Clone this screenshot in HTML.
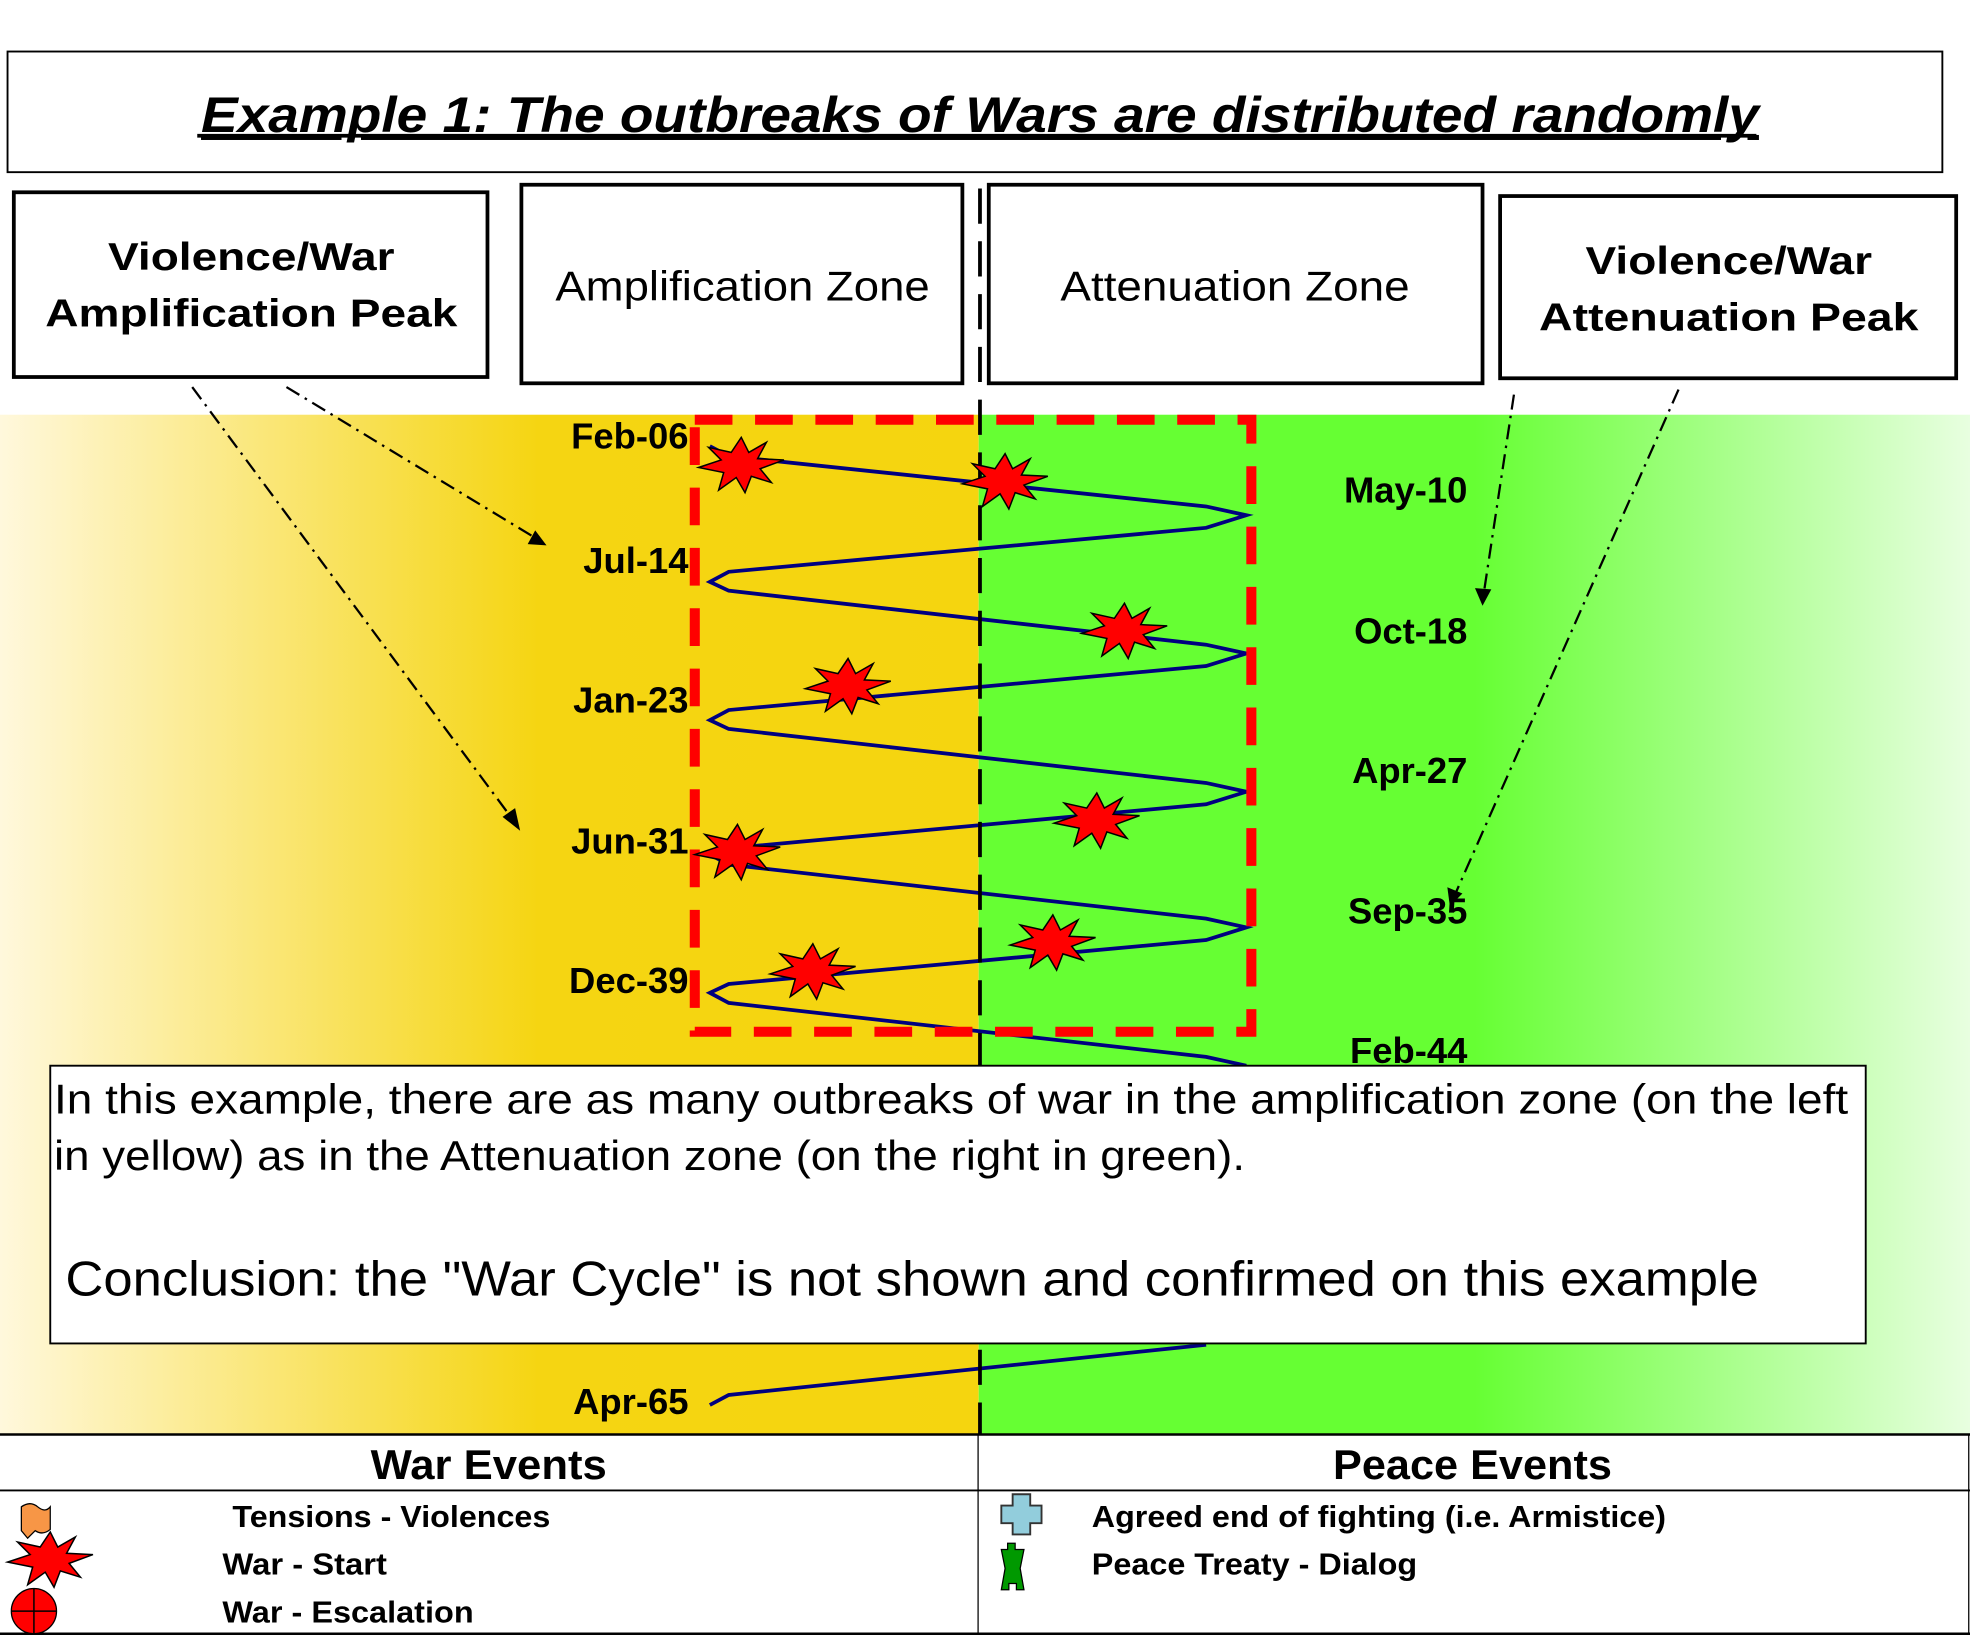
<!DOCTYPE html>
<html><head><meta charset="utf-8"><style>
html,body{margin:0;padding:0;background:#fff;}
svg{display:block;}
text{font-family:"Liberation Sans",sans-serif;}
</style></head><body>
<svg width="1970" height="1635" viewBox="0 0 1568 1301" preserveAspectRatio="none" xmlns="http://www.w3.org/2000/svg">
<defs>
<linearGradient id="gy" x1="0" x2="1" y1="0" y2="0">
<stop offset="0" stop-color="#fff8dc"/>
<stop offset="0.55" stop-color="#f5d512"/>
<stop offset="1" stop-color="#f5d50f"/>
</linearGradient>
<linearGradient id="gg" x1="0" x2="1" y1="0" y2="0">
<stop offset="0" stop-color="#66ff33"/>
<stop offset="0.5" stop-color="#66ff33"/>
<stop offset="1" stop-color="#e8ffe0"/>
</linearGradient>
<polygon id="star" points="0,-22 6,-10 20,-18 13,-5 34,-4 15,3 24,14 8,9 3,22 -4,10 -18,20 -14,6 -34,2 -16,-4 -26,-14 -8,-10" fill="#ff0000" stroke="#000" stroke-width="1.2"/>
</defs>
<rect x="0" y="330" width="779" height="811" fill="url(#gy)"/>
<rect x="779" y="330" width="789" height="811" fill="url(#gg)"/>

<!-- wave -->
<polyline fill="none" stroke="#000080" stroke-width="3" points="565,355 580,363 960,403 992,410 960,420 580,455 565,463 580,470 960,513 992,520 960,530 580,565 565,573 580,580 960,623 992,630 960,640 580,675 565,680 580,688 960,731 992,738 960,748 580,783 565,790 580,798 960,841 992,848"/>
<polyline fill="none" stroke="#000080" stroke-width="3" points="960,1070 580,1110 565,1118"/>

<!-- red dashed rect -->
<rect x="553" y="334" width="443" height="487" fill="none" stroke="#ff0000" stroke-width="8" stroke-dasharray="30 18"/>
<!-- black dashed vertical -->
<line x1="780" y1="150" x2="780" y2="1141" stroke="#000" stroke-width="3" stroke-dasharray="28 14"/>

<!-- stars -->
<use href="#star" x="590" y="370"/>
<use href="#star" x="800" y="383"/>
<use href="#star" x="895" y="502"/>
<use href="#star" x="675" y="546"/>
<use href="#star" x="873" y="653"/>
<use href="#star" x="587" y="678"/>
<use href="#star" x="838" y="750"/>
<use href="#star" x="647" y="773"/>

<!-- date labels -->
<g font-weight="bold" font-size="29" text-anchor="end" fill="#000">
<text x="548" y="357">Feb-06</text>
<text x="548" y="456">Jul-14</text>
<text x="548" y="567">Jan-23</text>
<text x="548" y="679">Jun-31</text>
<text x="548" y="790">Dec-39</text>
<text x="548" y="1125">Apr-65</text>
<text x="1168" y="400">May-10</text>
<text x="1168" y="512">Oct-18</text>
<text x="1168" y="623">Apr-27</text>
<text x="1168" y="735">Sep-35</text>
<text x="1168" y="846">Feb-44</text>
</g>

<!-- arrows -->
<g stroke="#000" stroke-width="1.8" stroke-dasharray="12 5 2 5" fill="none">
<line x1="153" y1="308" x2="408" y2="652"/>
<line x1="228" y1="308" x2="426" y2="428"/>
<line x1="1205" y1="314" x2="1181" y2="472"/>
<line x1="1336" y1="310" x2="1158" y2="712"/>
</g>
<g fill="#000">
<polygon points="414,661 400,650 410,643"/>
<polygon points="435,434 420,433 426,422"/>
<polygon points="1180,482 1174,468 1187,469"/>
<polygon points="1154,721 1152,706 1164,711"/>
</g>

<!-- title box -->
<rect x="6" y="41" width="1540" height="96" fill="#fff" stroke="#000" stroke-width="1.5"/>
<text x="780" y="105" text-anchor="middle" font-size="40" font-weight="bold" font-style="italic" text-decoration="underline" textLength="1240" lengthAdjust="spacingAndGlyphs">Example 1: The outbreaks of Wars are distributed randomly</text>
<line x1="157" y1="108" x2="1398" y2="108" stroke="#000" stroke-width="3"/>

<!-- header boxes -->
<g fill="#fff" stroke="#000" stroke-width="3">
<rect x="11" y="153" width="377" height="147"/>
<rect x="415" y="147" width="351" height="158"/>
<rect x="787" y="147" width="393" height="158"/>
<rect x="1194" y="156" width="363" height="145"/>
</g>
<g font-weight="bold" font-size="31" text-anchor="middle">
<text x="200" y="215" textLength="228" lengthAdjust="spacingAndGlyphs">Violence/War</text>
<text x="200" y="260" textLength="328" lengthAdjust="spacingAndGlyphs">Amplification Peak</text>
<text x="1376" y="218" textLength="228" lengthAdjust="spacingAndGlyphs">Violence/War</text>
<text x="1376" y="263" textLength="302" lengthAdjust="spacingAndGlyphs">Attenuation Peak</text>
</g>
<g font-size="33" text-anchor="middle">
<text x="591" y="239" textLength="298" lengthAdjust="spacingAndGlyphs">Amplification Zone</text>
<text x="983" y="239" textLength="278" lengthAdjust="spacingAndGlyphs">Attenuation Zone</text>
</g>

<!-- text box -->
<rect x="40" y="848" width="1445" height="221" fill="#fff" stroke="#000" stroke-width="1.5"/>
<text x="43" y="886" font-size="33" textLength="1428" lengthAdjust="spacingAndGlyphs">In this example, there are as many outbreaks  of war  in the amplification zone (on the left</text>
<text x="43" y="931" font-size="33" textLength="948" lengthAdjust="spacingAndGlyphs">in yellow) as in the Attenuation zone (on the right in green).</text>
<text x="52" y="1031" font-size="39" textLength="1348" lengthAdjust="spacingAndGlyphs">Conclusion: the "War Cycle" is not shown and confirmed on this example</text>

<!-- legend -->
<rect x="0" y="1141" width="1568" height="160" fill="#fff"/>
<line x1="0" y1="1141.5" x2="1568" y2="1141.5" stroke="#000" stroke-width="2"/>
<line x1="0" y1="1186" x2="1568" y2="1186" stroke="#000" stroke-width="1.5"/>
<line x1="778.5" y1="1141" x2="778.5" y2="1301" stroke="#000" stroke-width="1"/>
<line x1="1567" y1="1141" x2="1567" y2="1301" stroke="#000" stroke-width="1"/>
<line x1="0" y1="1300" x2="1568" y2="1300" stroke="#000" stroke-width="2"/>
<g font-weight="bold" font-size="33" text-anchor="middle">
<text x="389" y="1177" textLength="188" lengthAdjust="spacingAndGlyphs">War Events</text>
<text x="1172" y="1177" textLength="222" lengthAdjust="spacingAndGlyphs">Peace Events</text>
</g>
<g font-weight="bold" font-size="24">
<text x="185" y="1215" textLength="253" lengthAdjust="spacingAndGlyphs">Tensions - Violences</text>
<text x="177" y="1253" textLength="131" lengthAdjust="spacingAndGlyphs">War - Start</text>
<text x="177" y="1291" textLength="200" lengthAdjust="spacingAndGlyphs">War - Escalation</text>
<text x="869" y="1215" textLength="457" lengthAdjust="spacingAndGlyphs">Agreed end of fighting (i.e. Armistice)</text>
<text x="869" y="1253" textLength="259" lengthAdjust="spacingAndGlyphs">Peace Treaty - Dialog</text>
</g>
<!-- legend icons -->
<path d="M17,1199 Q24,1194 30,1199 Q36,1204 40,1199 L40,1217 Q34,1222 28,1218 L22,1224 L17,1218 Z" fill="#f79646" stroke="#000" stroke-width="1"/>
<use href="#star" x="40" y="1241" transform="translate(0,0)"/>
<circle cx="27" cy="1282" r="18" fill="#ff0000" stroke="#000" stroke-width="1"/>
<line x1="9" y1="1282" x2="45" y2="1282" stroke="#000" stroke-width="1.2"/>
<line x1="27" y1="1264" x2="27" y2="1300" stroke="#000" stroke-width="1.2"/>
<path d="M806,1189 h14 v9 h9 v14 h-9 v9 h-14 v-9 h-9 v-14 h9 Z" fill="#92cddc" stroke="#333" stroke-width="1.5"/>
<path d="M797,1233 h5 v-5 h6 v5 h7 l-3,15 l3,17 h-6 v-5 h-6 v5 h-6 l3,-17 Z" fill="#009900" stroke="#000" stroke-width="1"/>
</svg>
</body></html>
